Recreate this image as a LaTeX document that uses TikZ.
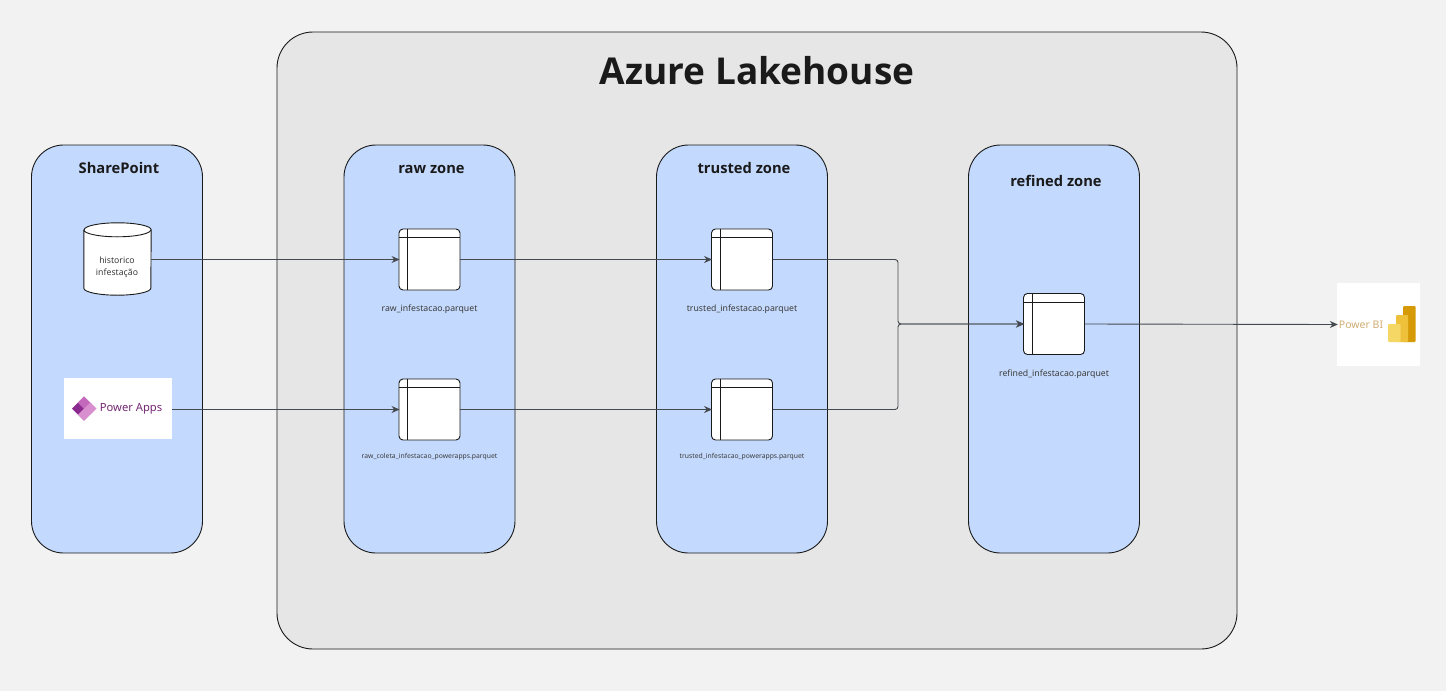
\documentclass[tikz,border=0pt]{standalone}
\usepackage{fontspec}
\setmainfont{Noto Sans}
\newfontfamily\headfont{Open Sans}
\usetikzlibrary{arrows.meta,calc}
\definecolor{pagebg}{HTML}{F2F2F2}
\definecolor{lakebg}{HTML}{E6E6E6}
\definecolor{zonebg}{HTML}{C3D9FD}
\definecolor{ink}{HTML}{1A1A1A}
\definecolor{wire}{HTML}{44484F}
\definecolor{pbi}{HTML}{D2AE74}
\definecolor{padark}{HTML}{8A2A8E}
\definecolor{palight}{HTML}{D98FCF}
\definecolor{pamid}{HTML}{C468BC}
\definecolor{patext}{HTML}{742774}
\definecolor{bione}{HTML}{D59A06}
\definecolor{bitwo}{HTML}{EFC03A}
\definecolor{bithree}{HTML}{F5D766}
\tikzset{
  x=1pt,y=-1pt,
  lake/.style={draw=ink,fill=lakebg,line width=0.9pt,rounded corners=36pt,minimum width=960pt,minimum height=617pt,inner sep=0pt},
  zone/.style={draw=ink,fill=zonebg,line width=0.9pt,rounded corners=32pt,minimum width=171pt,minimum height=408pt,inner sep=0pt},
  ztitle/.style={font=\headfont\fontsize{14.7}{16}\selectfont\bfseries,text=ink,inner sep=0pt,anchor=base},
  tablebox/.style={draw=ink,fill=white,line width=0.9pt,rounded corners=4pt,minimum size=61pt,inner sep=0pt},
  tline/.style={draw=ink,line width=0.9pt},
  flabel/.style={font=\fontsize{8.7}{10}\selectfont,text=ink!85,inner sep=0pt},
  slabel/.style={font=\fontsize{6.8}{8}\selectfont,text=ink!85,inner sep=0pt},
  wireline/.style={draw=wire,line width=0.9pt,shorten >=-1pt,-{Stealth[length=8pt,width=7pt]}},
  elbow/.style={wireline,rounded corners=3pt},
  logo/.style={fill=white,inner sep=0pt},
}
\newcommand{\tableheads}[1]{\draw[tline] ($(#1.north west)+(0,9)$) -- ($(#1.north east)+(0,9)$);
  \draw[tline] ($(#1.north west)+(9,0)$) -- ($(#1.south west)+(9,0)$);}
\begin{document}
\begin{tikzpicture}
\useasboundingbox (0,0) rectangle (1446,691);
\fill[pagebg] (0,0) rectangle (1446,691);
\node[lake] (lake) at (757,340.5) {};
\node[font=\headfont\fontsize{37}{44}\selectfont\bfseries,text=ink,inner sep=0pt,anchor=base] (laketitle) at (757,84.5) {Azure Lakehouse};
\node[zone] (sp) at (117,349) {};
\node[zone] (raw) at (429.5,349) {};
\node[zone] (trusted) at (742,349) {};
\node[zone] (refined) at (1054,349) {};
\node[ztitle] (sptitle) at (119,173) {SharePoint};
\node[ztitle] (rawtitle) at (431.5,173) {raw zone};
\node[ztitle] (trustedtitle) at (744,173) {trusted zone};
\node[ztitle] (refinedtitle) at (1056,186) {refined zone};
% cylinder
\node[minimum width=67pt,minimum height=72pt,inner sep=0pt] (hist) at (117.5,259) {};
\draw[fill=white,draw=ink,line width=0.9pt]
  ($(hist.north west)+(0,7)$) -- ($(hist.south west)+(0,-7)$)
  arc[x radius=33.5pt,y radius=7pt,start angle=180,end angle=360]
  -- ($(hist.north east)+(0,7)$)
  arc[x radius=33.5pt,y radius=7pt,start angle=0,end angle=180];
\draw[draw=ink,line width=0.9pt] ($(hist.north west)+(0,7)$) arc[x radius=33.5pt,y radius=7pt,start angle=180,end angle=360];
\node[font=\fontsize{8.7}{12.5}\selectfont,text=ink!85,align=center,inner sep=0pt] (histlabel) at (117,267.2) {historico\\infestação};
% tables
\node[tablebox] (t1) at (429.5,259.5) {};
\node[tablebox] (t2) at (429.5,409.5) {};
\node[tablebox] (t3) at (742,259.5) {};
\node[tablebox] (t4) at (742,409.5) {};
\node[tablebox] (t5) at (1054,324) {};
\tableheads{t1}\tableheads{t2}\tableheads{t3}\tableheads{t4}\tableheads{t5}
\node[flabel] (l1) at (429.5,309.4) {raw\_infestacao.parquet};
\node[slabel] (l2) at (429.5,456.8) {raw\_coleta\_infestacao\_powerapps.parquet};
\node[flabel] (l3) at (742,309.4) {trusted\_infestacao.parquet};
\node[slabel] (l4) at (742,456.8) {trusted\_infestacao\_powerapps.parquet};
\node[flabel] (l5) at (1054,374.4) {refined\_infestacao.parquet};
% Power Apps logo
\node[logo,minimum width=108pt,minimum height=61pt] (pa) at (118,408.5) {};
\fill[padark] (72,408.5) -- (84,396.5) -- (96,408.5) -- (84,420.5) -- cycle;
\fill[palight] (84,396.5) -- (96.5,408.5) -- (84,420.5) -- (78,414.5) -- (84,408.5) -- (78,402.5) -- cycle;
\fill[pamid] (84,408.5) -- (90,402.5) -- (84,396.5) -- (78,402.5) -- cycle;
\node[font=\fontsize{11.2}{13}\selectfont,text=patext,inner sep=0pt] (patxt) at (131,409) {Power Apps};
% Power BI logo
\node[logo,minimum width=83pt,minimum height=83pt] (bi) at (1378.5,324.5) {};
\node[font=\fontsize{10.5}{12}\selectfont,text=pbi,inner sep=0pt] (bitext) at (1361,324.5) {Power BI};
\fill[bione,rounded corners=1pt] (1403,306) rectangle (1415.5,342);
\fill[bitwo,rounded corners=1pt] (1396,315) rectangle (1408,342);
\fill[bithree,rounded corners=1pt] (1388,324) rectangle (1400.5,342);
% connectors
\draw[wireline] (hist.east |- t1.west) -- (t1.west);
\draw[wireline] (pa.east |- t2.west) -- (t2.west);
\draw[wireline] (t1.east) -- (t3.west);
\draw[wireline] (t2.east) -- (t4.west);
\coordinate (joint) at (898,324);
\draw[elbow] (t3.east) -- (t3.east -| joint) -- (joint) -- (t5.west);
\draw[elbow] (t4.east) -- (t4.east -| joint) -- (joint) -- (t5.west);
\draw[wireline] (t5.east) -- (bi.west);
\end{tikzpicture}
\end{document}
